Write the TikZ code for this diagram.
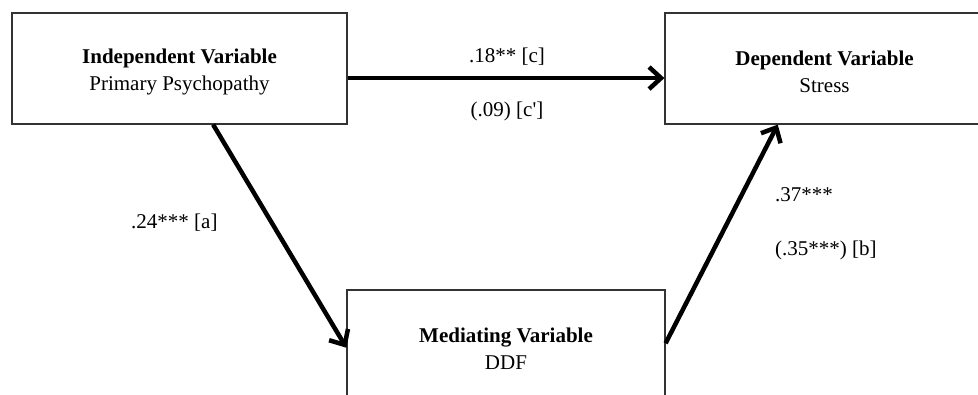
\documentclass[tikz,border=0pt]{standalone}
\usepackage{fontspec}
\setmainfont{Liberation Serif}
\usetikzlibrary{arrows.meta,calc}

\newcommand{\boxstrut}{\rule{0pt}{22pt}}

\tikzset{
    varbox/.style={draw=black!80, line width=1.2pt, minimum height=111pt, align=center, inner sep=0pt},
    path/.style={line width=4.5pt, -{Straight Barb[length=12pt, width=22pt]}},
    coef/.style={inner sep=0pt}
}

\begin{document}
\begin{tikzpicture}[x=1pt, y=-1pt, font=\fontsize{21}{27}\selectfont]
        \clip (0,0) rectangle (978,394);

        % Variable boxes
        \node[varbox, minimum width=335pt] (iv) at (179.5,68.5)
            {\boxstrut\textbf{Independent Variable}\\Primary Psychopathy};
        \node[varbox, minimum width=319pt] (dv) at (824.5,68.5)
            {\boxstrut\textbf{Dependent Variable}\\Stress};
        \node[varbox, minimum width=318pt] (mv) at (506,345.5)
            {\boxstrut\textbf{Mediating Variable}\\DDF};

        % Paths
        \draw[path] ($(iv.north east)!0.585!(iv.south east)$) -- ($(dv.north west)!0.585!(dv.south west)$);
        \draw[path] ($(iv.south west)!0.6!(iv.south east)$) -- ($(mv.north west)!0.52!(mv.south west)$);
        \draw[path] ($(mv.north east)!0.48!(mv.south east)$) -- ($(dv.south west)!0.354!(dv.south east)$);

        % Coefficients
        \node[coef] (c) at (507,57) {.18** [c]};
        \node[coef] (cp) at (507,111) {(.09) [c\textquotesingle]};
        \node[coef, anchor=west] (a) at (131,223) {.24*** [a]};
        \node[coef, anchor=west] (b1) at (775,195) {.37***};
        \node[coef, anchor=west] (b2) at (775,250) {(.35***) [b]};
    \end{tikzpicture}
\end{document}
